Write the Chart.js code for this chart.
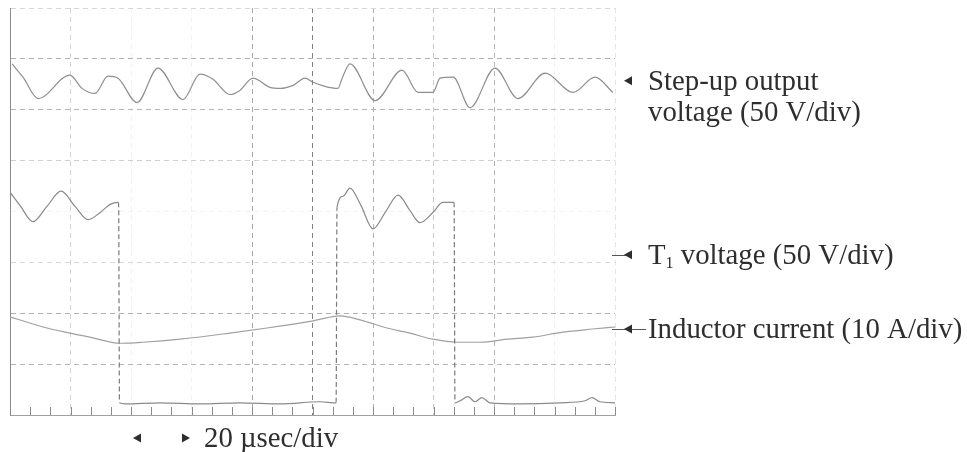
<!DOCTYPE html>
<html>
<head>
<meta charset="utf-8">
<title>Step-up converter waveforms</title>
<script src="https://cdn.jsdelivr.net/npm/chart.js@4.4.0/dist/chart.umd.min.js"></script>
<style>
  html, body { margin: 0; padding: 0; background: #fff; }
  #wrap { position: relative; width: 967px; height: 452px; }
</style>
</head>
<body>
<div id="wrap"><canvas id="scope"></canvas></div>
<script>
// time base: 10 divisions at 20 µs/div, 8 vertical divisions
const timeDivs = 10;
const usPerDiv = 20;
const vertDivs = 8;

// step-up output voltage ripple (V), 50 V/div
const stepUpTime = [0.7, 4.3, 9.3, 19.8, 23.8, 28.1, 32.4, 35.7, 42.0, 48.9,
    57.2, 62.8, 67.1, 72.7, 76.0, 80.3, 86.0, 89.3, 93.6, 97.5,
    100.2, 104.1, 108.4, 109.8, 112.4, 120.7, 129.6, 134.9, 139.8, 142.2,
    146.5, 152.1, 160.3, 167.9, 176.9, 186.1, 193.4, 199.3];
const stepUpVolts = [25, 12, -9, 14, 1, -4, 13, 11, -13, 21,
    -10, 15, 10, -5, -1, 11, 2, 1, 4, 11,
    7, 3, 1, 11, 25, -11, 19, -3, -3, 11,
    12, -18, 21, -9, 16, -3, 12, -3];

// T1 voltage (V), 50 V/div
const t1Time = [0, 3.3, 7.6, 12.2, 16.9, 21.5, 25.8, 29.8, 33.1, 35.9,
    36.2, 38.0, 49.6, 62.8, 76.0, 89.3, 102.5, 107.8,
    108.1, 110.1, 112.4, 116.0, 120.0, 124.0, 128.3, 132.2, 135.5, 139.8,
    143.1, 146.8, 147.1, 148.8, 151.4, 153.7, 156.0, 158.7, 168.6, 181.8,
    190.1, 192.4, 195.0, 200];
const t1Volts = [69, 56, 40, 55, 70, 55, 42, 49, 57, 59,
    -138, -139, -138, -139, -138, -139, -137, -138,
    54, 65, 73, 56, 33, 49, 66, 51, 39, 49,
    59, 59, -138, -136, -132, -137, -133, -138, -139, -138,
    -136, -133, -137, -138];

// inductor current (A), 10 A/div
const currentTime = [0, 10.9, 19.8, 26.4, 36.4, 44.0, 56.2, 72.7, 85.0, 100.2,
    109.1, 115.7, 124.6, 132.2, 139.8, 147.8, 155.4, 164.3, 172.9, 182.8,
    192.7, 200];
const currentAmps = [2.3, 0.3, -0.9, -1.7, -2.9, -2.7, -2.1, -0.9, 0.1, 1.5,
    2.5, 1.7, 0.1, -0.9, -2.1, -2.7, -2.7, -2.1, -1.7, -0.7,
    -0.1, 0.3];

// channel captions, placed at each trace marker (in divisions from the bottom)
const captions = [
    { lines: ['Step-up output', 'voltage (50 V/div)'], div: 6.57, lead: false },
    { lines: ['T', ' voltage (50 V/div)'], sub: '1', div: 3.15, lead: true },
    { lines: ['Inductor current (10 A/div)'], div: 1.69, lead: true, through: true }
];
const timeCaption = '20 µsec/div';

const captionFont = '28.8px "Liberation Serif", "Times New Roman", serif';
const subFont = '16px "Liberation Serif", "Times New Roman", serif';

const toPoints = (xs, ys) => xs.map((x, i) => ({ x: x, y: ys[i] }));

// faint and stronger graticule lines, like the scanned scope screen
const vGridColors = ['#8c8c8c', '#d4d4d4', '#f2f2f2', '#f2f2f2', '#a8a8a8', '#808080',
    '#b0b0b0', '#c8c8c8', '#b4b4b4', '#f0f0f0', '#e4e4e4'];
const hGridColors = ['#a8a8a8', '#b4b4b4', '#b0b0b0', '#d8d8d8', '#f2f2f2', '#cfcfcf',
    '#b4b4b4', '#b0b0b0', '#d6d6d6'];

function leftArrow(ctx, tipX, y, size)
{
    ctx.beginPath();
    ctx.moveTo(tipX, y);
    ctx.lineTo(tipX + size, y - size / 2 - 0.5);
    ctx.lineTo(tipX + size, y + size / 2 + 0.5);
    ctx.closePath();
    ctx.fill();
}

function rightArrow(ctx, tipX, y, size)
{
    ctx.beginPath();
    ctx.moveTo(tipX, y);
    ctx.lineTo(tipX - size, y - size / 2 - 0.5);
    ctx.lineTo(tipX - size, y + size / 2 + 0.5);
    ctx.closePath();
    ctx.fill();
}

const scopeMarks = {
    id: 'scopeMarks',
    afterDraw(chart) {
        const { ctx, chartArea, scales } = chart;
        const xs = scales.x;
        const div = scales.div;
        ctx.save();

        // minor ticks on the time axis, three per division
        ctx.strokeStyle = '#8a8a8a';
        ctx.lineWidth = 1;
        ctx.beginPath();
        for (let k = 0; k <= timeDivs * 3; k++) {
            const px = Math.round(xs.getPixelForValue(k * usPerDiv / 3)) + 0.5;
            ctx.moveTo(px, chartArea.bottom);
            ctx.lineTo(px, chartArea.bottom - 8);
        }
        ctx.stroke();

        // channel captions on the right
        const textX = chartArea.right + 33;
        ctx.fillStyle = '#2e2e2e';
        ctx.strokeStyle = '#555';
        ctx.textBaseline = 'alphabetic';
        ctx.font = captionFont;
        captions.forEach(c => {
            const y = div.getPixelForValue(c.div);
            const tip = chartArea.right + 9;
            if (c.lead) {
                ctx.beginPath();
                ctx.moveTo(chartArea.right - 3, Math.round(y) + 0.5);
                ctx.lineTo(c.through ? textX - 2 : tip + 2, Math.round(y) + 0.5);
                ctx.stroke();
            }
            leftArrow(ctx, tip, y, 8);
            const base = y + 9;
            if (c.sub) {
                ctx.fillText(c.lines[0], textX, base);
                const w = ctx.measureText(c.lines[0]).width;
                ctx.font = subFont;
                ctx.fillText(c.sub, textX + w, base + 4);
                const ws = ctx.measureText(c.sub).width;
                ctx.font = captionFont;
                ctx.fillText(c.lines[1], textX + w + ws, base);
            } else {
                c.lines.forEach((line, i) => ctx.fillText(line, textX, base + i * 31));
            }
        });

        // time base caption under the screen
        const by = chartArea.bottom + 23;
        leftArrow(ctx, 133, by, 8);
        rightArrow(ctx, 190, by, 8);
        ctx.fillText(timeCaption, 204, by + 9);
        ctx.restore();
    }
};

const traceStyle = {
    pointRadius: 0,
    borderWidth: 1.2,
    cubicInterpolationMode: 'monotone',
    fill: false
};

const chartData = {
    datasets: [
        Object.assign({
            label: 'Step-up output voltage',
            data: toPoints(stepUpTime, stepUpVolts),
            borderColor: '#8f8f8f',
            yAxisID: 'stepUp'
        }, traceStyle),
        Object.assign({
            label: 'T1 voltage',
            data: toPoints(t1Time, t1Volts),
            borderColor: '#8a8a8a',
            yAxisID: 't1',
            segment: {
                // fast switching edges show up faint and broken
                borderDash: ctx => Math.abs(ctx.p1.parsed.y - ctx.p0.parsed.y) > 100 ? [5, 3] : undefined,
                borderColor: ctx => Math.abs(ctx.p1.parsed.y - ctx.p0.parsed.y) > 100 ? '#7a7a7a' : undefined
            }
        }, traceStyle),
        Object.assign({
            label: 'Inductor current',
            data: toPoints(currentTime, currentAmps),
            borderColor: '#a0a0a0',
            yAxisID: 'current'
        }, traceStyle)
    ]
};

const config = {
    type: 'line',
    data: chartData,
    options: {
        responsive: true,
        maintainAspectRatio: false,
        animation: false,
        layout: {
            padding: { left: 10, top: 8, right: 352, bottom: 37 }
        },
        plugins: {
            legend: { display: false },
            tooltip: { enabled: false }
        },
        scales: {
            x: {
                type: 'linear',
                min: 0,
                max: timeDivs * usPerDiv,
                ticks: { display: false, stepSize: usPerDiv },
                grid: {
                    drawTicks: false,
                    color: ctx => vGridColors[ctx.index] || '#ddd',
                    lineWidth: 1
                },
                border: { display: true, color: '#a0a0a0', dash: [5, 4] }
            },
            div: {
                type: 'linear',
                position: 'left',
                min: 0,
                max: vertDivs,
                ticks: { display: false, stepSize: 1 },
                grid: {
                    drawTicks: false,
                    color: ctx => hGridColors[ctx.index] || '#ddd',
                    lineWidth: 1
                },
                border: { display: true, color: '#8c8c8c', dash: [5, 4] }
            },
            stepUp: { type: 'linear', display: false, min: -320, max: 80 },
            t1: { type: 'linear', display: false, min: -150, max: 250 },
            current: { type: 'linear', display: false, min: -17, max: 63 }
        }
    },
    plugins: [scopeMarks]
};

new Chart(document.getElementById('scope').getContext('2d'), config);
</script>
</body>
</html>
